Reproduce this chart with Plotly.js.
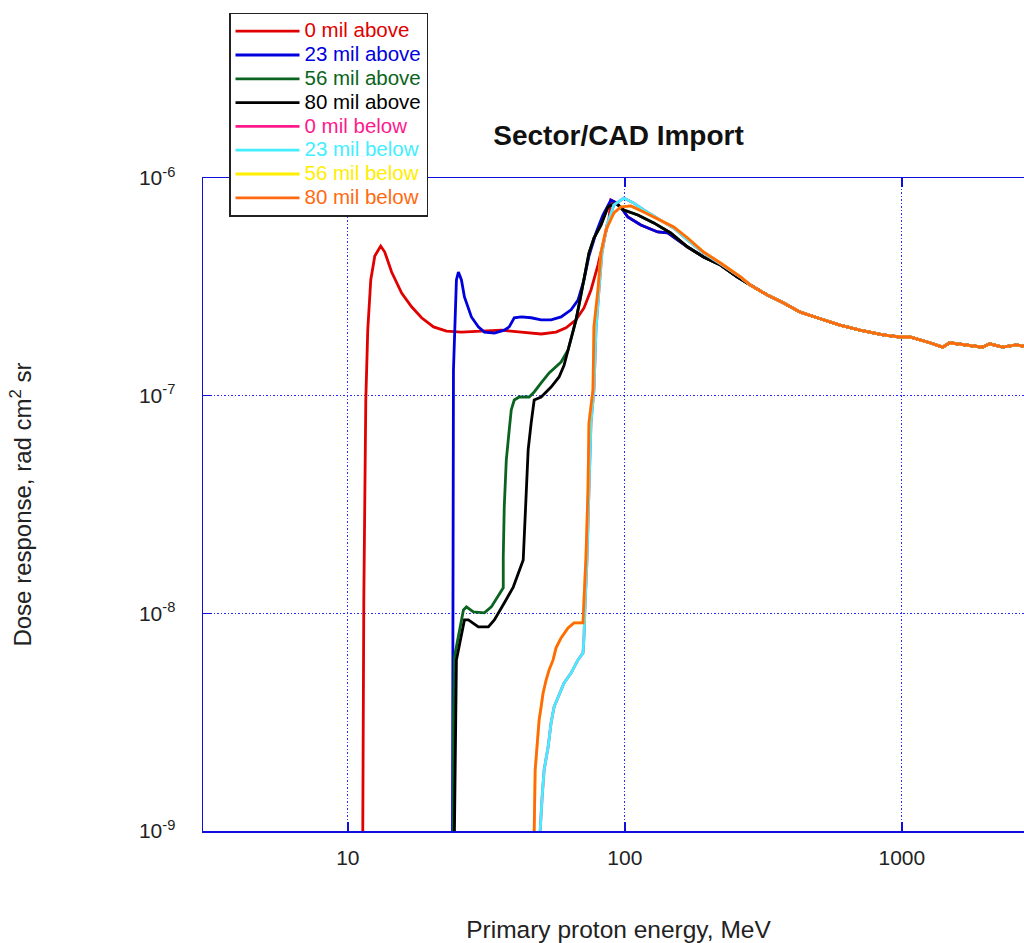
<!DOCTYPE html>
<html>
<head>
<meta charset="utf-8">
<script src="https://cdn.plot.ly/plotly-3.0.1.min.js"></script>
<style>
html,body{margin:0;padding:0;overflow:hidden;background:#fff;}
#chart{width:1045px;height:943px;}
</style>
</head>
<body>
<div id="chart"></div>
<script>
// Common high-energy tail (all curves overlap here)
const tailE = [284, 327, 373, 430, 495, 598, 706, 855, 984, 1069, 1262, 1404, 1488, 1714, 1955, 2073, 2309, 2592, 2886, 3000];
const tailD = [3.22e-7, 2.90e-7, 2.67e-7, 2.42e-7, 2.28e-7, 2.11e-7, 2.00e-7, 1.90e-7, 1.86e-7, 1.86e-7, 1.75e-7, 1.67e-7, 1.75e-7, 1.71e-7, 1.67e-7, 1.73e-7, 1.67e-7, 1.71e-7, 1.67e-7, 1.67e-7];

// 0 mil above (red)
const e_0above = [11.23, 11.32, 11.42, 11.61, 11.80, 12.10, 12.51, 13.14, 13.59, 14.39, 15.64, 16.99, 18.46, 20.39, 22.71, 25.71, 30.34, 35.81, 42.26, 49.87, 56.46, 61.35, 66.64, 71.21, 75.47, 79.98, 84.05, 87.58, 89.04, 93.6, 98.35, 102.5, 114.2, 131.4, 142.8, 168.5, 192.4, 221.5, 255.0];
const d_0above = [1e-10, 1e-9, 1.153e-8, 9.55e-8, 2.00e-7, 3.40e-7, 4.38e-7, 4.87e-7, 4.57e-7, 3.70e-7, 2.96e-7, 2.56e-7, 2.28e-7, 2.07e-7, 1.98e-7, 1.96e-7, 1.98e-7, 2.00e-7, 1.96e-7, 1.92e-7, 1.96e-7, 2.05e-7, 2.23e-7, 2.53e-7, 3.06e-7, 3.98e-7, 5.19e-7, 6.41e-7, 7.92e-7, 7.67e-7, 7.13e-7, 6.62e-7, 6.08e-7, 5.65e-7, 5.59e-7, 4.82e-7, 4.34e-7, 3.98e-7, 3.51e-7];

// 23 mil above (blue)
const e_23above = [23.87, 23.87, 24.06, 24.26, 24.66, 25.07, 25.71, 26.36, 27.93, 29.59, 31.11, 33.8, 36.7, 38.25, 39.88, 42.26, 45.9, 49.87, 54.17, 58.86, 63.95, 67.75, 71.21, 74.22, 78.66, 83.35, 89.04, 93.6, 98.35, 102.5, 114.2, 131.4, 142.8, 168.5, 192.4, 221.5, 255.0];
const d_23above = [1e-10, 1e-9, 1.31e-7, 1.86e-7, 3.40e-7, 3.70e-7, 3.40e-7, 2.84e-7, 2.30e-7, 2.07e-7, 1.96e-7, 1.94e-7, 2.00e-7, 2.07e-7, 2.28e-7, 2.30e-7, 2.28e-7, 2.23e-7, 2.23e-7, 2.30e-7, 2.48e-7, 2.75e-7, 3.40e-7, 4.38e-7, 5.59e-7, 6.76e-7, 7.92e-7, 7.67e-7, 7.13e-7, 6.62e-7, 6.08e-7, 5.65e-7, 5.59e-7, 4.82e-7, 4.34e-7, 3.98e-7, 3.51e-7];

// 56 mil above (green)
const e_56above = [24.06, 24.06, 24.26, 25.28, 26.14, 26.80, 28.39, 31.11, 32.96, 36.4, 36.4, 36.7, 37.33, 38.25, 38.9, 39.88, 41.56, 45.14, 47.07, 49.87, 53.29, 58.86, 62.37, 64.48, 66.64, 68.88, 71.21, 74.22, 77.36, 81.98, 86.87, 92.82, 99.2, 111.4, 127.2, 146.4, 168.5, 192.4, 221.5, 255.0];
const d_56above = [1e-10, 3.24e-9, 6.31e-9, 8.13e-9, 1.037e-8, 1.07e-8, 1.015e-8, 1.005e-8, 1.07e-8, 1.31e-8, 1.82e-8, 3.08e-8, 5.07e-8, 6.96e-8, 8.60e-8, 9.55e-8, 9.86e-8, 9.86e-8, 1.04e-7, 1.144e-7, 1.272e-7, 1.428e-7, 1.62e-7, 1.90e-7, 2.23e-7, 2.75e-7, 3.40e-7, 4.52e-7, 5.30e-7, 6.08e-7, 7.36e-7, 7.67e-7, 7.13e-7, 6.76e-7, 6.22e-7, 5.59e-7, 4.82e-7, 4.34e-7, 3.98e-7, 3.51e-7];

// 80 mil above (black)
const e_80above = [24.26, 24.26, 24.66, 25.71, 26.36, 27.24, 29.59, 32.16, 33.8, 36.7, 39.55, 42.97, 43.32, 44.05, 44.77, 45.9, 47.07, 49.87, 54.17, 57.89, 60.34, 62.37, 64.48, 66.64, 68.88, 71.21, 74.22, 77.36, 81.98, 86.87, 92.82, 99.2, 111.4, 127.2, 146.4, 168.5, 192.4, 221.5, 255.0];
const d_80above = [1e-10, 1e-9, 6.11e-9, 8.13e-9, 9.33e-9, 9.33e-9, 8.66e-9, 8.66e-9, 9.33e-9, 1.116e-8, 1.32e-8, 1.76e-8, 2.17e-8, 3.69e-8, 5.63e-8, 7.49e-8, 9.55e-8, 9.86e-8, 1.096e-7, 1.219e-7, 1.38e-7, 1.62e-7, 1.90e-7, 2.23e-7, 2.75e-7, 3.40e-7, 4.52e-7, 5.30e-7, 6.08e-7, 7.36e-7, 7.67e-7, 7.13e-7, 6.76e-7, 6.22e-7, 5.59e-7, 4.82e-7, 4.34e-7, 3.98e-7, 3.51e-7];

// 23 mil below (cyan); 0 mil below is hidden under it in the picture
const e_23below = [49.46, 49.46, 50.28, 51.12, 52.84, 54.17, 55.54, 57.41, 60.34, 63.95, 67.75, 70.63, 71.21, 71.8, 73.0, 74.22, 75.47, 77.36, 78.66, 80.66, 82.68, 86.17, 91.3, 99.2, 107.7, 117.0, 134.8, 150.1, 168.5, 192.4, 221.5, 261.5];
const d_23below = [1e-10, 1e-9, 1.43e-9, 1.91e-9, 2.43e-9, 3.14e-9, 3.72e-9, 4.13e-9, 4.79e-9, 5.32e-9, 6.11e-9, 6.58e-9, 7.79e-9, 1.07e-8, 1.76e-8, 3.69e-8, 7.49e-8, 1.062e-7, 2.00e-7, 3.06e-7, 4.52e-7, 6.08e-7, 7.52e-7, 8.09e-7, 7.67e-7, 7.13e-7, 6.41e-7, 5.89e-7, 5.19e-7, 4.52e-7, 4.03e-7, 3.51e-7];
const e_0below = e_23below;
const d_0below = d_23below;

// 80 mil below (orange); 56 mil below is hidden under it in the picture
const e_80below = [47.07, 47.07, 47.46, 48.25, 48.65, 49.05, 49.87, 50.7, 51.98, 53.29, 55.08, 56.46, 58.86, 62.37, 65.55, 70.63, 71.21, 72.4, 73.61, 74.22, 76.72, 77.36, 77.36, 79.98, 81.98, 85.45, 91.3, 96.7, 105.1, 117.0, 134.8, 150.1, 168.5, 192.4, 221.5, 261.5];
const d_80below = [1e-10, 1e-9, 1.91e-9, 2.43e-9, 2.91e-9, 3.24e-9, 3.72e-9, 4.31e-9, 4.94e-9, 5.50e-9, 6.11e-9, 6.94e-9, 7.71e-9, 8.57e-9, 9.04e-9, 9.04e-9, 1.153e-8, 1.82e-8, 3.69e-8, 7.49e-8, 1.062e-7, 1.80e-7, 2.07e-7, 3.06e-7, 4.52e-7, 5.77e-7, 6.91e-7, 7.36e-7, 7.44e-7, 6.98e-7, 6.41e-7, 5.96e-7, 5.30e-7, 4.57e-7, 4.07e-7, 3.51e-7];
const e_56below = e_80below;
const d_56below = d_80below;

const seriesNames = ['0 mil above', '23 mil above', '56 mil above', '80 mil above', '0 mil below', '23 mil below', '56 mil below', '80 mil below'];
const seriesColors = ['#e00000', '#0000dd', '#0a6420', '#000000', '#ff1a8c', '#44eeff', '#ffee00', '#ff6a10'];
const seriesE = [e_0above, e_23above, e_56above, e_80above, e_0below, e_23below, e_56below, e_80below];
const seriesD = [d_0above, d_23above, d_56above, d_80above, d_0below, d_23below, d_56below, d_80below];

const yTickVals = [1e-9, 1e-8, 1e-7, 1e-6];
const yTickText = ['10<sup>-9</sup>', '10<sup>-8</sup>', '10<sup>-7</sup>', '10<sup>-6</sup>'];
const xTickVals = [10, 100, 1000];
const xTickText = ['10', '100', '1000'];

const traces = seriesNames.map((n, i) => ({
  type: 'scatter', mode: 'lines',
  x: seriesE[i].concat(tailE),
  y: seriesD[i].concat(tailD),
  name: '<span style="color:' + seriesColors[i] + ';font-size:20.5px">' + n + '</span>',
  line: {color: seriesColors[i], width: 2.8},
  hoverinfo: 'skip'
}));

const axBlue = '#1010dd';
const gridBlue = '#2a2aff';
const layout = {
  width: 1045, height: 943,
  margin: {l: 203, r: 11, t: 178, b: 112},
  paper_bgcolor: '#fff', plot_bgcolor: '#fff',
  font: {family: 'Liberation Sans, Arial, sans-serif', color: '#222'},
  title: {text: 'Sector/CAD Import', x: 0.5, xref: 'paper', xanchor: 'center',
          y: 0.857, yref: 'container', yanchor: 'middle',
          font: {size: 28, weight: 'bold', color: '#111'}},
  showlegend: true,
  legend: {x: 0.0313, y: 1.253, xanchor: 'left', yanchor: 'top',
           bgcolor: '#fff', bordercolor: '#222', borderwidth: 1.5,
           font: {size: 16, color: '#222'}, itemwidth: 64, tracegroupgap: 0,
           traceorder: 'normal'},
  xaxis: {type: 'log', range: [Math.log10(3), Math.log10(3000)],
          tickvals: xTickVals, ticktext: xTickText,
          ticks: 'inside', ticklen: 9, tickwidth: 1.5, tickcolor: axBlue,
          showline: true, linecolor: axBlue, linewidth: 1.5, mirror: 'ticks',
          showgrid: true, gridcolor: gridBlue, gridwidth: 1.2, griddash: '1.5px,2px',
          zeroline: false, tickfont: {size: 21, color: '#222'}, ticklabelstandoff: 7,
          title: {text: 'Primary proton energy, MeV', font: {size: 24.5, color: '#222'}, standoff: 56},
          automargin: false},
  yaxis: {type: 'log', range: [-9, -6],
          tickvals: yTickVals, ticktext: yTickText,
          ticks: 'inside', ticklen: 9, tickwidth: 1.5, tickcolor: axBlue,
          showline: true, linecolor: axBlue, linewidth: 1.5, mirror: 'ticks',
          showgrid: true, gridcolor: gridBlue, gridwidth: 1.2, griddash: '1.5px,2px',
          zeroline: false, tickfont: {size: 21, color: '#222'}, ticklabelstandoff: 22,
          title: {text: 'Dose response, rad cm<sup>2</sup> sr', font: {size: 24, color: '#222'}, standoff: 100},
          automargin: false}
};

Plotly.newPlot('chart', traces, layout, {displayModeBar: false, staticPlot: true});
</script>
</body>
</html>
